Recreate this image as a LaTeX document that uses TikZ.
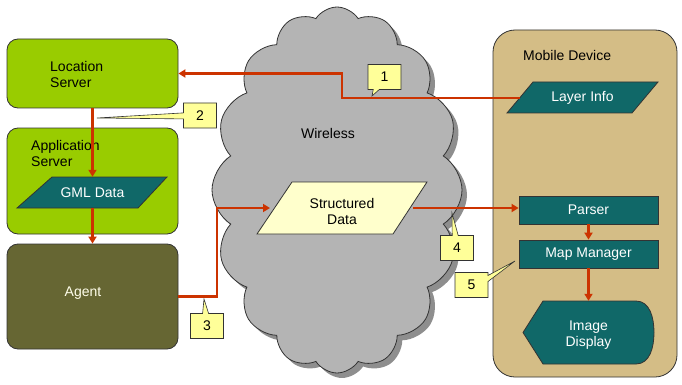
\documentclass[tikz,border=0pt]{standalone}
\usepackage{fontspec}
\setmainfont{Liberation Sans}
\usetikzlibrary{arrows.meta,shapes.symbols,shapes.callouts,shadows}

\definecolor{srvgreen}{HTML}{99CC00}
\definecolor{agentolive}{HTML}{666633}
\definecolor{dataTeal}{HTML}{106868}
\definecolor{devtan}{HTML}{D4BD86}
\definecolor{noteyellow}{HTML}{FFFF99}
\definecolor{paleyellow}{HTML}{FFFFCC}
\definecolor{flowred}{HTML}{CC3300}
\definecolor{cloudgray}{HTML}{B4B4B4}
\definecolor{cloudshade}{HTML}{8E8E8E}
\definecolor{edge}{HTML}{333333}

\begin{document}
\begin{tikzpicture}[x=1pt,y=-1pt,
  every node/.style={font=\fontsize{14}{16}\selectfont},
  panel/.style={draw=edge, line width=0.8pt, rounded corners=11pt},
  tealfill/.style={fill=dataTeal, draw=edge, line width=0.8pt},
  boxtext/.style={text=white, inner sep=0pt, align=center},
  tealbox/.style={tealfill, rectangle, minimum width=139pt, minimum height=28pt,
                  inner sep=0pt, text=white},
  flow/.style={draw=flowred, line width=2.8pt,
               -{Triangle[length=7pt,width=8pt]}},
  note/.style={rectangle callout, fill=noteyellow, draw=edge, line width=0.6pt,
               minimum width=33pt, minimum height=25pt, inner sep=0pt,
               callout pointer width=6pt},
]
\useasboundingbox (0,0) rectangle (682,385);
\fill[white] (0,0) rectangle (682,385);

% ---- server side -------------------------------------------------------
\node[panel, fill=srvgreen, minimum width=171pt, minimum height=69pt] (ls)
  at (92.5,73.5) {};
\node[anchor=west, align=left, inner sep=0pt] (lstext) at (50,74)
  {Location\\Server};

\node[panel, fill=srvgreen, minimum width=171pt, minimum height=106pt] (as)
  at (92.5,181) {};
\node[anchor=west, align=left, inner sep=0pt] (astext) at (31,153)
  {Application\\Server};

\path[tealfill] (17,208) -- (52,177) -- (167,177) -- (138,208) -- cycle;
\node[boxtext, minimum height=31pt] (gml) at (92.5,192.5) {GML Data};

\node[panel, fill=agentolive, minimum width=171pt, minimum height=105pt] (agent)
  at (92.5,296.5) {};
\node[text=white!92!yellow, inner sep=0pt] (agtext) at (83,293) {Agent};

% ---- wireless network ---------------------------------------------------
\node[cloud, cloud puffs=16, cloud puff arc=115, aspect=0.68,
      minimum width=250pt, minimum height=366pt, inner sep=0pt,
      fill=cloudgray, draw=edge, line width=0.8pt,
      drop shadow={shadow xshift=5pt, shadow yshift=-5pt,
                   fill=cloudshade, opacity=1}] (net) at (337,190) {};
\node[inner sep=0pt] (wltext) at (328,133) {Wireless};

\path[fill=paleyellow, draw=edge, line width=0.8pt]
  (257,234) -- (292,182) -- (427,182) -- (393,234) -- cycle;
\node[inner sep=0pt, align=center] (sd) at (342,211.5) {Structured\\Data};
\coordinate (sdin) at (270,208);
\coordinate (sdout) at (413,208);

% ---- mobile device ------------------------------------------------------
\node[panel, fill=devtan, rounded corners=22pt, minimum width=184pt,
      minimum height=347pt] (dev) at (585,203.5) {};
\node[anchor=west, inner sep=0pt] (devtext) at (523,55) {Mobile Device};

\path[tealfill] (507,113) -- (533,82) -- (658,82) -- (632,113) -- cycle;
\node[boxtext, minimum height=31pt] (li) at (582.5,97.5) {Layer Info};
\coordinate (lisrc) at (520,98);

\node[tealbox] (parser) at (588.5,210) {Parser};
\node[tealbox] (mm) at (588.5,254) {Map Manager};

\path[tealfill] (523,332.5) -- (543,301) -- (636,301)
  .. controls (650,301) and (654,318) .. (654,332.5)
  .. controls (654,347) and (650,364) .. (636,364)
  -- (543,364) -- cycle;
\node[boxtext, minimum height=63pt] (img) at (588.5,332.5) {};
\node[boxtext] (imgtext) at (588.5,335.5) {Image\\Display};

% ---- data flows ---------------------------------------------------------
\coordinate (bend1) at (342,73.5);
\coordinate (bend3) at (217,208);
\draw[flow] (lisrc) -| (bend1) -- (ls.east);
\draw[flow] (ls.south) -- (ls.south |- gml.north);
\draw[flow] (agent.north |- gml.south) -- (agent.north);
\draw[flow] (agent.east) -| (bend3) -- (sdin);
\draw[flow] (sdout) -- (parser.west |- sdout);
\draw[flow] (parser.south) -- (mm.north);
\draw[flow] (mm.south) -- (img.north);

% ---- step labels --------------------------------------------------------
\node[note, callout absolute pointer={(372,96)}] (n1) at (384.5,77) {1};
\node[note, callout absolute pointer={(97,118)}] (n2) at (200,115.5) {2};
\node[note, callout absolute pointer={(204,299)}] (n3) at (207,326) {3};
\node[note, callout absolute pointer={(452,213)}] (n4) at (457,248) {4};
\node[note, callout absolute pointer={(515,261)}] (n5) at (471.5,285) {5};
\end{tikzpicture}
\end{document}
